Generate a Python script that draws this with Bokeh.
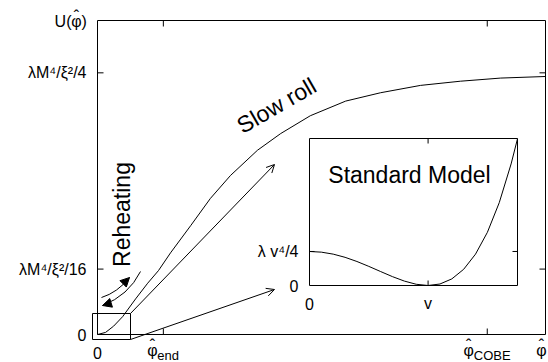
import math
from bokeh.plotting import figure
from bokeh.models import Range1d, Arrow, OpenHead, NormalHead
from bokeh.core.properties import value
from bokeh.embed import file_html
from bokeh.resources import INLINE

FONT = "Liberation Sans"

# ---- main curve: U(phi_hat) in units of lambda M^4 / xi^2
phi = [0, 0.18, 0.36, 0.56, 0.85, 1.12, 1.36, 1.63, 2.08, 2.52, 2.97, 3.57,
       4.09, 4.75, 5.54, 6.32, 7.21, 8.10, 9.00, 10.0]
U = [0, 0.002, 0.008, 0.017, 0.034, 0.049, 0.061, 0.078, 0.104, 0.130, 0.152,
     0.176, 0.192, 0.209, 0.223, 0.231, 0.238, 0.242, 0.245, 0.2465]

phi_end = 1.47
phi_cobe = 8.70
phi_max = 10.0
U_max = 0.30
y_ticks = [0.0625, 0.25]
y_tick_labels = ["λM⁴/ξ²/16", "λM⁴/ξ²/4"]
x_ticks = [phi_end, phi_cobe]
x_tick_sub = ["end", "COBE"]

# ---- inset: Standard Model potential, h in units of v, V in units of lambda v^4
h = [0, 0.1, 0.2, 0.3, 0.4, 0.5, 0.6, 0.7, 0.8, 0.9, 1.0, 1.1, 1.2, 1.3, 1.4,
     1.5, 1.6, 1.7, 1.754]
V = [0.25, 0.245, 0.2304, 0.207, 0.1764, 0.1406, 0.1024, 0.065, 0.0324,
     0.009, 0.0, 0.011, 0.0484, 0.119, 0.2304, 0.3906, 0.6084, 0.893, 1.078]
h_max = 1.754
V_max = 1.08
inset_y_tick = 0.25
inset_x_tick = 1.0

# ---- layout (pixels)
W, H = 548, 362
L, R, T, B = 97, 3, 20, 28          # main frame margins
fw, fh = W - L - R, H - T - B
kx, ky = phi_max / fw, U_max / fh

p = figure(width=W, height=H, output_backend="svg", toolbar_location=None,
           x_range=Range1d(-L * kx, phi_max + R * kx),
           y_range=Range1d(-B * ky, U_max + T * ky),
           x_axis_location=None, y_axis_location=None,
           min_border=0, min_border_left=0, min_border_right=0,
           min_border_top=0, min_border_bottom=0)
p.grid.visible = False
p.outline_line_color = None
p.background_fill_color = "white"
p.border_fill_color = "white"


def ptx(px):
    return (px - L) * kx


def pty(py):
    return (H - B - py) * ky


def txt(xs, ys, texts, size="16px", align="center", baseline="middle",
        angle=0.0, **kw):
    p.text(x=xs, y=ys, text=texts, text_align=align, text_baseline=baseline,
           angle=angle, text_font=value(FONT), text_font_size=size,
           text_color="black", **kw)


def phihat(cx, mid_py, size="16px"):
    txt([ptx(cx)], [pty(mid_py)], ["φ"], size=size)
    txt([ptx(cx)], [pty(mid_py - 5)], ["ˆ"], size=size)


# ---- main frame and ticks
p.quad(left=[0], right=[phi_max], bottom=[0], top=[U_max], fill_color=None,
       line_color="black", line_width=1)
p.ray(x=[0] * 2, y=y_ticks, angle=0, length=6, length_units="screen",
      line_color="black")
p.ray(x=[phi_max] * 2, y=y_ticks, angle=math.pi, length=6,
      length_units="screen", line_color="black")
p.ray(x=x_ticks, y=[0] * 2, angle=math.pi / 2, length=6, length_units="screen",
      line_color="black")
p.ray(x=x_ticks, y=[U_max] * 2, angle=-math.pi / 2, length=6,
      length_units="screen", line_color="black")

# y tick labels
txt([ptx(86)] * 3, [0] + y_ticks, ["0"] + y_tick_labels, align="right")
# U(phi_hat)
txt([ptx(71)], [pty(21)], ["U("], align="right")
phihat(76, 21)
txt([ptx(81)], [pty(21)], [")"], align="left")

# x tick labels
txt([0], [pty(352)], ["0"])
for xt, s, wsub in zip(x_ticks, x_tick_sub, [22, 37]):
    cx = L + xt / kx
    left = cx - (10 + wsub) / 2
    phihat(left + 5, 350)
    txt([ptx(left + 10)], [pty(355)], [s], size="13px", align="left")
phihat(L + phi_max / kx - 4, 350)

# main curve
p.line(phi, U, line_color="black", line_width=1)

# zoom box near origin and arrows to the inset
p.quad(left=[ptx(92)], right=[ptx(130)], bottom=[pty(339)], top=[pty(313)],
       fill_color=None, line_color="black", line_width=1)
p.add_layout(Arrow(x_start=ptx(130), y_start=pty(313), x_end=ptx(274),
                   y_end=pty(164), line_color="black", line_width=1,
                   end=OpenHead(size=8, line_color="black", line_width=1)))
p.add_layout(Arrow(x_start=ptx(130), y_start=pty(339), x_end=ptx(274),
                   y_end=pty(289), line_color="black", line_width=1,
                   end=OpenHead(size=8, line_color="black", line_width=1)))

# reheating arrows
p.quadratic(x0=[ptx(101)], y0=[pty(297)], x1=[ptx(129)], y1=[pty(277)],
            cx=[ptx(117)], cy=[pty(292)], line_color="black", line_width=1)
p.add_layout(Arrow(x_start=ptx(119), y_start=pty(287), x_end=ptx(129),
                   y_end=pty(277), line_alpha=0,
                   end=NormalHead(size=9, fill_color="black", line_color="black")))
p.quadratic(x0=[ptx(140)], y0=[pty(271)], x1=[ptx(102)], y1=[pty(305)],
            cx=[ptx(128)], cy=[pty(295)], line_color="black", line_width=1)
p.add_layout(Arrow(x_start=ptx(115), y_start=pty(301), x_end=ptx(102),
                   y_end=pty(305), line_alpha=0,
                   end=NormalHead(size=9, fill_color="black", line_color="black")))

txt([ptx(121)], [pty(214)], ["Reheating"], size="23px", angle=math.pi / 2)
txt([ptx(276)], [pty(105)], ["Slow roll"], size="23px",
    angle=math.radians(30))

# ---- inset placed through extra ranges
IL, IR, IT, IB = 309, 517, 138, 285     # inset frame, pixels
ku = h_max / (IR - IL)
kv = V_max / (IB - IT)
p.extra_x_ranges = {"ix": Range1d(-IL * ku, h_max + (W - IR) * ku)}
p.extra_y_ranges = {"iy": Range1d(-(H - IB) * kv, V_max + IT * kv)}
kw = dict(x_range_name="ix", y_range_name="iy")

p.quad(left=[0], right=[h_max], bottom=[0], top=[V_max], fill_color="white",
       line_color="black", line_width=1, **kw)
p.line(h, V, line_color="black", line_width=1, **kw)
p.ray(x=[0, h_max], y=[inset_y_tick] * 2, angle=[0, math.pi], length=5,
      length_units="screen", line_color="black", **kw)
p.ray(x=[inset_x_tick] * 2, y=[0, V_max], angle=[math.pi / 2, -math.pi / 2],
      length=5, length_units="screen", line_color="black", **kw)
txt([-11 * ku] * 2, [inset_y_tick, 0], ["λ v⁴/4", "0"], align="right", **kw)
txt([0, inset_x_tick], [-18 * kv] * 2, ["0", "v"], **kw)
txt([(409 - IL) * ku], [(IB - 174) * kv], ["Standard Model"], size="23px",
    **kw)

open("out.html", "w").write(file_html(p, INLINE))
